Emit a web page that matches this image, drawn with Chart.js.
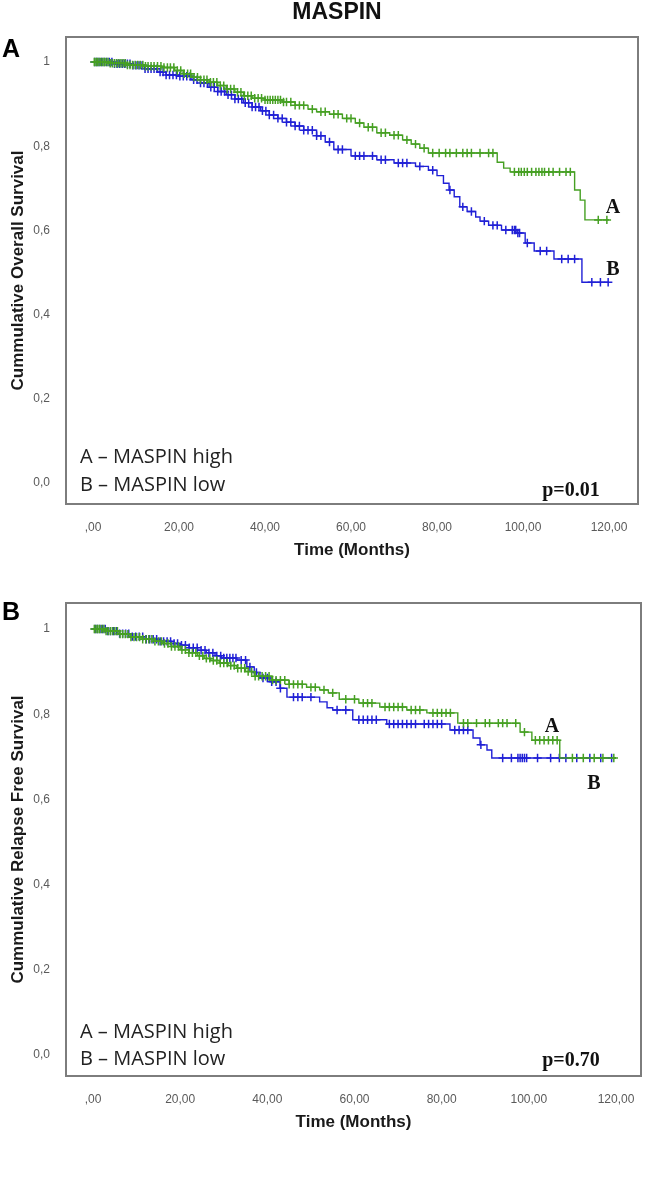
<!DOCTYPE html>
<html>
<head>
<meta charset="utf-8">
<script src="https://cdn.jsdelivr.net/npm/chart.js@4.4.1/dist/chart.umd.min.js"></script>
<style>
  body { margin: 0; background: #fff; }
  #page { position: relative; width: 647px; height: 1180px; overflow: hidden; background: #fff; }
  canvas { position: absolute; left: 0; }
  .t { position: absolute; white-space: nowrap; line-height: 1; transform: translate(-50%, -50%); }
  .head { font: bold 23px "Liberation Sans", Arial, sans-serif; color: #111; }
  .panel { font: bold 25px "Liberation Sans", Arial, sans-serif; color: #000; }
  .leg { position: absolute; white-space: nowrap; line-height: 1; transform: translateY(-50%);
         font: 20px "Open Sans", sans-serif; color: #222; }
  .serif { font: bold 20px "Liberation Serif", "Times New Roman", serif; color: #111; }
</style>
</head>
<body>
<div id="page">
  <canvas id="chartA"></canvas>
  <canvas id="chartB"></canvas>

  <div class="t head" style="left:337px; top:11px;">MASPIN</div>
  <div class="t panel" style="left:11px; top:48px;">A</div>
  <div class="t panel" style="left:11px; top:611px;">B</div>

  <div class="leg" style="left:80px; top:455px;">A – MASPIN high</div>
  <div class="leg" style="left:80px; top:483px;">B – MASPIN low</div>
  <div class="t serif" style="left:571px; top:489px;">p=0.01</div>
  <div class="t serif" style="left:613px; top:206px;">A</div>
  <div class="t serif" style="left:613px; top:268px;">B</div>

  <div class="leg" style="left:80px; top:1030px;">A – MASPIN high</div>
  <div class="leg" style="left:80px; top:1057px;">B – MASPIN low</div>
  <div class="t serif" style="left:571px; top:1059px;">p=0.70</div>
  <div class="t serif" style="left:552px; top:725px;">A</div>
  <div class="t serif" style="left:594px; top:782px;">B</div>
</div>

<script>
// axis ticks
const xTickValues = [0, 20, 40, 60, 80, 100, 120];
const xTickLabels = [',00', '20,00', '40,00', '60,00', '80,00', '100,00', '120,00'];
const yTickValues = [0, 0.2, 0.4, 0.6, 0.8, 1];
const yTickLabels = ['0,0', '0,2', '0,4', '0,6', '0,8', '1'];

// Panel A - overall survival, MASPIN high (A)
const osHighTime = [0, 4, 8, 12, 16, 19, 21, 23, 25, 27, 29, 31, 33, 35, 37, 40, 44, 47, 50, 52,
  55, 58, 61, 63, 66, 69, 72, 74, 76, 78, 94, 95.5, 97, 112, 113.3, 114.4, 120];
const osHighSurv = [1.0, 0.997, 0.993, 0.990, 0.987, 0.980, 0.972, 0.964, 0.958, 0.952, 0.944, 0.936, 0.928, 0.920, 0.914, 0.910, 0.905, 0.897, 0.888, 0.882,
  0.876, 0.866, 0.855, 0.845, 0.832, 0.826, 0.815, 0.805, 0.795, 0.784, 0.762, 0.748, 0.739, 0.696, 0.672, 0.625, 0.625];
const osHighCensor = [0.3, 0.7, 1, 1.4, 1.8, 2.2, 2.6, 3, 3.5, 4, 4.5, 5, 5.5, 6, 6.5, 7, 7.5, 8, 8.6, 9.2, 9.8,
  10.4, 11, 11.6, 12.2, 12.8, 13.5, 14.2, 15, 15.8, 16.5, 17.3, 18, 18.8, 19.6, 20.4, 21.2, 22, 22.7, 23.5,
  24.3, 25, 25.8, 26.5, 27.3, 28, 28.8, 29.6, 30.4, 31.2, 32, 32.8, 33.6, 34.4, 35.2, 36, 36.8, 37.6, 38.4,
  39.2, 40, 40.6, 41.2, 41.8, 42.4, 43, 43.6, 44.3, 45, 46, 47, 48, 49, 51, 53, 54, 56, 57, 59, 60, 62, 64,
  65, 67, 68, 70, 71, 73, 75, 77, 79, 80.5, 82, 83, 84.5, 86, 87, 88, 90, 92, 93,
  98, 99, 99.6, 100.3, 101, 102, 103, 103.7, 104.4, 105, 106, 107, 108.5, 110, 111, 117.5, 119.5];

// Panel A - overall survival, MASPIN low (B)
const osLowTime = [0, 5, 9, 12, 15, 17, 20, 23, 25, 27, 29, 31, 33, 35, 37, 39, 41, 43, 45, 47,
  49, 52, 54, 56, 60, 66, 70, 75, 78, 80, 81.5, 82.8, 84, 85.3, 87, 89, 90, 92, 95, 98.6,
  100.5, 102.6, 107.2, 113.7, 120];
const osLowSurv = [1.0, 0.996, 0.992, 0.984, 0.976, 0.969, 0.966, 0.958, 0.950, 0.940, 0.930, 0.922, 0.912, 0.903, 0.893, 0.884, 0.874, 0.866, 0.857, 0.848,
  0.838, 0.825, 0.810, 0.792, 0.777, 0.768, 0.760, 0.752, 0.743, 0.730, 0.712, 0.696, 0.680, 0.656, 0.645, 0.632, 0.622, 0.612, 0.601, 0.594,
  0.570, 0.551, 0.532, 0.477, 0.477];
const osLowCensor = [0.4, 0.9, 1.4, 2, 2.6, 3.2, 3.8, 4.4, 5, 5.6, 6.2, 6.8, 7.4, 8, 8.6, 9.3, 10, 10.7, 11.4,
  12.1, 12.8, 13.5, 14.2, 14.9, 15.6, 16.3, 17, 17.8, 18.6, 19.4, 20.2, 21, 21.8, 22.6, 23.4, 24.2, 25, 25.8,
  26.6, 27.4, 28.2, 29, 29.8, 30.6, 31.4, 32.2, 33, 33.8, 34.6, 35.4, 36.2, 37, 37.8, 38.6, 39.4, 40.2, 41,
  42, 43, 44, 45, 46, 47, 48, 49, 50, 51, 52, 53, 55, 57, 58, 61, 62, 63, 65, 67, 68, 71, 72, 73, 76, 79, 83,
  86, 88, 91, 93, 94, 96, 97.5, 98, 98.3, 98.8, 99.2, 101, 104, 105.5, 109, 110.5, 112, 116, 118, 119.8];

// Panel B - relapse free survival, MASPIN high (A)
const rfsHighTime = [0, 3, 6, 8.5, 11, 14, 16, 18, 20, 22, 24, 25.5, 27, 29, 31, 33, 35, 37, 41, 45,
  49, 52, 54, 56.5, 61, 65.8, 72, 76.6, 83.7, 98, 100.7, 107.1, 120];
const rfsHighSurv = [1.0, 0.995, 0.988, 0.981, 0.976, 0.971, 0.966, 0.959, 0.951, 0.944, 0.937, 0.931, 0.926, 0.920, 0.914, 0.908, 0.900, 0.889, 0.880, 0.870,
  0.863, 0.857, 0.850, 0.835, 0.826, 0.817, 0.810, 0.803, 0.779, 0.758, 0.739, 0.697, 0.697];
const rfsHighCensor = [0.3, 0.7, 1.1, 1.5, 2, 2.5, 3, 3.5, 4, 4.5, 5, 5.6, 6.2, 6.8, 7.4, 8, 8.7, 9.4, 10, 10.7,
  11.4, 12.1, 12.8, 13.5, 14.2, 15, 15.7, 16.4, 17.2, 18, 18.8, 19.6, 20.4, 21.2, 22, 22.8, 23.6, 24.4, 25.2,
  26, 26.8, 27.6, 28.4, 29.2, 30, 30.8, 31.6, 32.4, 33.2, 34, 34.8, 35.6, 36.4, 37.2, 38, 38.8, 39.6, 40.4,
  41.2, 42, 43, 44, 45, 46, 47, 48, 50, 51, 53, 55, 58, 60, 62, 63, 64, 67, 68, 69, 70, 71, 73, 74, 75,
  78, 79, 80, 81, 82, 85, 86, 88, 90, 91, 93, 94, 95, 97, 99, 101.5, 102.5, 103.5, 104.5, 105.5, 106.5,
  110, 112.5, 115, 117, 119.5];

// Panel B - relapse free survival, MASPIN low (B)
const rfsLowTime = [0, 3, 6, 9, 12, 15, 18, 20, 22, 24, 26, 28, 29.5, 33, 35.3, 37, 38.3, 40.6, 42.9, 44.5,
  52, 53.7, 55, 59.6, 67.4, 81.9, 87.2, 88.8, 90.4, 91.5, 120];
const rfsLowSurv = [1.0, 0.995, 0.989, 0.982, 0.976, 0.971, 0.966, 0.962, 0.956, 0.950, 0.944, 0.937, 0.932, 0.927, 0.911, 0.898, 0.885, 0.876, 0.861, 0.840,
  0.829, 0.815, 0.810, 0.787, 0.777, 0.763, 0.744, 0.728, 0.716, 0.697, 0.697];
const rfsLowCensor = [0.5, 1, 1.6, 2.2, 2.8, 3.4, 4, 4.7, 5.4, 6.1, 6.8, 7.5, 8.2, 9, 9.8, 10.6, 11.4, 12.2,
  13, 13.8, 14.6, 15.4, 16.2, 17, 17.8, 18.6, 19.4, 20.3, 21.2, 22.1, 23, 23.9, 24.8, 25.7, 26.6, 27.5,
  28.4, 29.3, 30, 30.7, 31.4, 32.1, 32.8, 34, 35, 36, 37.5, 39, 40, 41, 42, 43, 46, 47, 48, 50, 56, 58, 61,
  62, 63, 64, 65, 68, 69, 70, 71, 72, 73, 74, 76, 77, 78, 79, 80, 83, 84, 85, 86, 89, 94, 96, 97.5, 98,
  98.5, 99, 99.5, 102, 105, 107, 108.5, 111, 114, 116.5, 119];

const GREEN = '#46a023';
const BLUE = '#2020d6';
const SANS = '"Liberation Sans", Arial, sans-serif';

// value of the KM step curve at time t
function survAt(times, surv, t) {
    let s = surv[0];
    for (let i = 0; i < times.length; i++) {
        if (times[i] <= t) s = surv[i];
    }
    return s;
}

// grey box round the plot area
const framePlugin = {
    id: 'frame',
    beforeDatasetsDraw(chart) {
        const a = chart.chartArea, c = chart.ctx;
        c.save();
        c.strokeStyle = '#7d7d7d';
        c.lineWidth = 2;
        c.strokeRect(a.left, a.top, a.right - a.left, a.bottom - a.top);
        c.restore();
    }
};

function buildChart(id, opt) {
    const cv = document.getElementById(id);
    cv.style.top = opt.top + 'px';
    cv.width = 647;
    cv.height = opt.height;
    const canvasBottom = opt.top + opt.height;

    let datasets = [];
    opt.groups.forEach(g => {
        datasets.push({
            type: 'scatter', showLine: true, stepped: 'before',
            data: g.time.map((t, i) => ({x: t, y: g.surv[i]})),
            borderColor: g.color, borderWidth: 1.4, pointRadius: 0, fill: false
        });
        datasets.push({
            type: 'scatter',
            data: g.censor.map(t => ({x: t, y: survAt(g.time, g.surv, t)})),
            pointStyle: 'cross', pointRadius: 4.2, borderWidth: 1.5,
            borderColor: g.color, backgroundColor: g.color
        });
    });

    return new Chart(cv, {
        type: 'scatter',
        data: {datasets: datasets},
        options: {
            responsive: false,
            animation: false,
            devicePixelRatio: 1,
            layout: {padding: {top: opt.box.top - opt.top, right: 647 - opt.box.right, left: 0, bottom: 0}},
            plugins: {legend: {display: false}, tooltip: {enabled: false}},
            scales: {
                x: {
                    type: 'linear', min: opt.xMin, max: opt.xMax,
                    grid: {display: false}, border: {display: false},
                    afterBuildTicks: s => { s.ticks = xTickValues.map(v => ({value: v})); },
                    afterFit: s => { s.height = canvasBottom - opt.box.bottom; },
                    ticks: {
                        autoSkip: false, maxRotation: 0, padding: 8, color: '#5a5a5a',
                        font: {family: SANS, size: 12},
                        callback: (v, i) => xTickLabels[i]
                    },
                    title: {
                        display: true, text: 'Time (Months)', color: '#1a1a1a',
                        font: {family: SANS, size: 17, weight: 'bold'},
                        padding: {top: 0, bottom: canvasBottom - opt.xTitleY - 10.2}
                    }
                },
                y: {
                    min: opt.yMin, max: opt.yMax,
                    grid: {display: false}, border: {display: false},
                    afterBuildTicks: s => { s.ticks = yTickValues.map(v => ({value: v})); },
                    afterFit: s => { s.width = 66; },
                    ticks: {
                        padding: 8, color: '#5a5a5a',
                        font: {family: SANS, size: 12},
                        callback: (v, i) => yTickLabels[i]
                    },
                    title: {
                        display: true, text: opt.yTitle, color: '#1a1a1a',
                        font: {family: SANS, size: 17, weight: 'bold'},
                        padding: {top: 8, bottom: 0}
                    }
                }
            }
        },
        plugins: [framePlugin]
    });
}

buildChart('chartA', {
    top: 0, height: 580,
    box: {top: 37, right: 638, bottom: 504},
    xMin: -6.28, xMax: 126.74, yMin: -0.0499, yMax: 1.0594,
    xTitleY: 550,
    yTitle: 'Cummulative Overall Survival',
    groups: [
        {time: osHighTime, surv: osHighSurv, censor: osHighCensor, color: GREEN},
        {time: osLowTime, surv: osLowSurv, censor: osLowCensor, color: BLUE}
    ]
});

buildChart('chartB', {
    top: 580, height: 600,
    box: {top: 603, right: 641, bottom: 1076},
    xMin: -6.2, xMax: 125.74, yMin: -0.0493, yMax: 1.061,
    xTitleY: 1122,
    yTitle: 'Cummulative Relapse Free Survival',
    groups: [
        {time: rfsHighTime, surv: rfsHighSurv, censor: rfsHighCensor, color: GREEN},
        {time: rfsLowTime, surv: rfsLowSurv, censor: rfsLowCensor, color: BLUE}
    ]
});
</script>
</body>
</html>
